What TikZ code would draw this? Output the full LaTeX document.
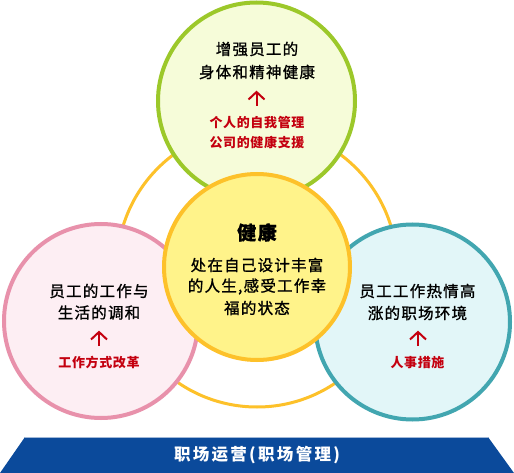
\documentclass[tikz,border=0pt]{standalone}
\usepackage{fontspec}
\newfontfamily\cjk{Noto Sans CJK SC}[LetterSpace=8, FakeBold=1.2]
\newfontfamily\cjkred{Noto Sans CJK SC}[LetterSpace=5]
\newfontfamily\cjkban{Noto Sans CJK SC}[LetterSpace=14]
\definecolor{ringc}{HTML}{FDC12A}
\definecolor{topfill}{HTML}{F6FCD9}
\definecolor{topline}{HTML}{9CC82A}
\definecolor{leftfill}{HTML}{FDEEF3}
\definecolor{leftline}{HTML}{E891AB}
\definecolor{rightfill}{HTML}{E2F6F8}
\definecolor{rightline}{HTML}{42A6B0}
\definecolor{midfill}{HTML}{FFF38A}
\definecolor{redtxt}{HTML}{C4000F}
\definecolor{banner}{HTML}{0B4A9B}
\definecolor{bannerline}{HTML}{A0B8D8}
\tikzset{
  blk/.style={inner sep=0pt, anchor=center, font=\cjk\fontsize{15.5}{18}\selectfont, text=black},
  red/.style={inner sep=0pt, anchor=center, font=\cjkred\bfseries\fontsize{13}{16}\selectfont, text=redtxt},
  uparrowline/.style={draw=redtxt, line width=2pt},
}
\begin{document}
\begin{tikzpicture}[x=1pt,y=-1pt]
\useasboundingbox (0,0) rectangle (514,473);
\fill[white] (0,0) rectangle (514,473);
% ring
\draw[ringc, line width=3pt] (257,267) circle[radius=140];
% outer circles
\draw[topline, fill=topfill, line width=4pt] (256.5,101) circle[radius=98.5];
\draw[leftline, fill=leftfill, line width=4pt] (101,321) circle[radius=97];
\draw[rightline, fill=rightfill, line width=4pt] (412.5,322) circle[radius=97.5];
% center
\draw[ringc, fill=midfill, line width=4pt] (257,267) circle[radius=93];
% top texts
\node[blk] (t1) at (257,49) {增强员工的};
\node[blk] (t2) at (257,72) {身体和精神健康};
\coordinate (ta) at (256.5,99);
\draw[uparrowline] ([yshift=-7pt]ta) -- ([yshift=7pt]ta);
\draw[uparrowline] ([xshift=-8pt,yshift=-0.5pt]ta) -- ([yshift=7pt]ta) -- ([xshift=8pt,yshift=-0.5pt]ta);
\node[red] (t3) at (257,123) {个人的自我管理};
\node[red] (t4) at (257,143) {公司的健康支援};
% left texts
\node[blk] (l1) at (99,291) {员工的工作与};
\node[blk] (l2) at (99,312.5) {生活的调和};
\coordinate (la) at (99,339);
\draw[uparrowline] ([yshift=-7pt]la) -- ([yshift=7pt]la);
\draw[uparrowline] ([xshift=-8pt,yshift=-0.5pt]la) -- ([yshift=7pt]la) -- ([xshift=8pt,yshift=-0.5pt]la);
\node[red] (l3) at (99,362) {工作方式改革};
% right texts
\node[blk] (r1) at (417.5,291) {员工工作热情高};
\node[blk] (r2) at (417.5,313) {涨的职场环境};
\coordinate (ra) at (418,339);
\draw[uparrowline] ([yshift=-7pt]ra) -- ([yshift=7pt]ra);
\draw[uparrowline] ([xshift=-8pt,yshift=-0.5pt]ra) -- ([yshift=7pt]ra) -- ([xshift=8pt,yshift=-0.5pt]ra);
\node[red] (r3) at (417.5,363) {人事措施};
% center texts
\node[inner sep=0pt, font=\cjk\bfseries\fontsize{19}{22}\selectfont] (c0) at (257,232.5) {健康};
\node[blk] (c1) at (257,265) {处在自己设计丰富};
\node[blk] (c2) at (257,286.5) {的人生,感受工作幸};
\node[blk] (c3) at (257,308) {福的状态};
% banner
\fill[banner] (25,437) -- (488,437) -- (514,473) -- (0,473) -- cycle;
\draw[bannerline, line width=1pt] (25,437.5) -- (488,437.5);
\node[inner sep=0pt, font=\cjkban\bfseries\fontsize{16.5}{18}\selectfont, text=white] (b) at (257,455.5) {职场运营(职场管理)};
\end{tikzpicture}
\end{document}
